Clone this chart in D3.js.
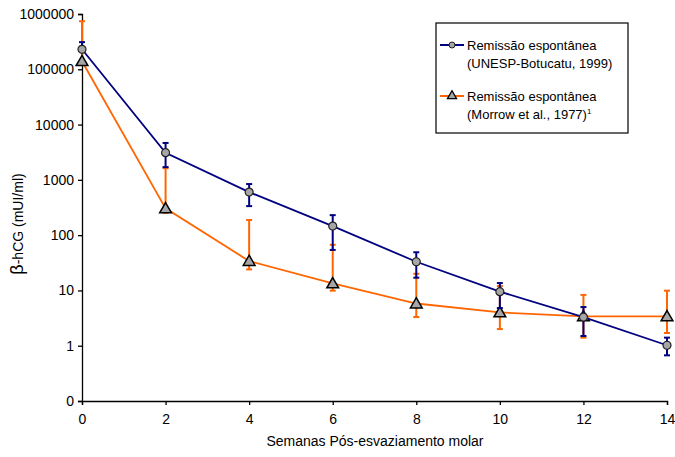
<!DOCTYPE html>
<html lang="en">
<head>
<meta charset="UTF-8" />
<script src="https://d3js.org/d3.v7.min.js"></script>
<style>
  body { margin: 0; background: #fff; }
  text { font-family: "Liberation Sans", Arial, sans-serif; fill: #000; }
</style>
</head>
<body>
<svg id="chart" width="675" height="457"></svg>
<script>
  // weeks after molar evacuation
  const weeks = [0, 2, 4, 6, 8, 10, 12, 14];

  // UNESP-Botucatu 1999 (mean, upper, lower)
  const unespMean = [230000, 3100, 600, 146, 33, 9.5, 3.3, 1.02];
  const unespHigh = [310000, 4650, 840, 230, 49, 13.6, 5.0, 1.4];
  const unespLow  = [230000, 1700, 335, 54, 17, 4.8, 1.5, 0.67];

  // Morrow et al. 1977
  const morrowMean = [140000, 305, 34, 13.4, 5.8, 4.0, 3.4, 3.4];
  const morrowHigh = [740000, 1630, 188, 67, 20, 12, 8.3, 9.9];
  const morrowLow  = [140000, 254, 24, 9.9, 3.3, 2.0, 1.4, 1.7];

  const yTicks = [0.1, 1, 10, 100, 1000, 10000, 100000, 1000000];
  const xTicks = [0, 2, 4, 6, 8, 10, 12, 14];

  const svg = d3.select('#chart');
  const margin = { top: 14, right: 8, bottom: 56, left: 82 };
  const width = +svg.attr('width');
  const height = +svg.attr('height');
  const innerWidth = width - margin.left - margin.right;
  const innerHeight = height - margin.top - margin.bottom;

  const xScale = d3.scaleLinear().domain([0, 14]).range([0, innerWidth]);
  const yScale = d3.scaleLog().domain([0.1, 1000000]).range([innerHeight, 0]);

  const g = svg.append('g')
    .attr('transform', `translate(${margin.left},${margin.top})`);

  const yAxisG = g.append('g')
    .call(d3.axisLeft(yScale).tickValues(yTicks).tickSize(4).tickPadding(4)
      .tickFormat(d => d < 1 ? '0' : d3.format('d')(d)));
  const xAxisG = g.append('g')
    .attr('transform', `translate(0,${innerHeight})`)
    .call(d3.axisBottom(xScale).tickValues(xTicks).tickSize(4).tickPadding(9));

  [yAxisG, xAxisG].forEach(a => {
    a.attr('font-size', 14).attr('font-family', '"Liberation Sans", Arial, sans-serif');
    a.selectAll('.domain').attr('stroke', '#000').attr('stroke-width', 1.3);
    a.selectAll('.tick line').attr('stroke', '#000').attr('stroke-width', 1.3);
  });

  g.append('text')
    .attr('x', 293)
    .attr('y', innerHeight + 45)
    .attr('text-anchor', 'middle')
    .style('font-size', '14px')
    .text('Semanas Pós-esvaziamento molar');

  const yLabel = svg.append('text')
    .attr('transform', 'translate(23,224) rotate(-90)')
    .attr('text-anchor', 'middle');
  yLabel.append('tspan').style('font-size', '18px').text('β');
  yLabel.append('tspan').style('font-size', '14px').text('-hCG (mUI/ml)');

  const series = [
    { mean: morrowMean, high: morrowHigh, low: morrowLow, color: '#ff6600', marker: 'triangle' },
    { mean: unespMean, high: unespHigh, low: unespLow, color: '#000080', marker: 'circle' }
  ];

  const line = d3.line()
    .x(d => xScale(d.w))
    .y(d => yScale(d.v));

  const drawMarker = (sel, type) => {
    if (type === 'circle') {
      sel.append('circle').attr('r', 4)
        .attr('fill', '#a6a6a6').attr('stroke', '#222').attr('stroke-width', 1.2);
    } else {
      sel.append('path').attr('d', d3.symbol(d3.symbolTriangle, 60)())
        .attr('transform', 'translate(0,1)')
        .attr('fill', '#a6a6a6').attr('stroke', '#000').attr('stroke-width', 1.5);
    }
  };

  series.forEach(s => {
    const pts = weeks.map((w, i) => ({ w, v: s.mean[i], hi: s.high[i], lo: s.low[i] }));

    // error bars
    const eb = g.append('g');
    pts.forEach(p => {
      const x = xScale(p.w);
      eb.append('line')
        .attr('x1', x).attr('x2', x)
        .attr('y1', yScale(p.hi)).attr('y2', yScale(p.lo))
        .attr('stroke', s.color).attr('stroke-width', 2);
      [p.hi, p.lo].forEach(v => {
        if (v === p.v) return;
        eb.append('line')
          .attr('x1', x - 3).attr('x2', x + 3)
          .attr('y1', yScale(v)).attr('y2', yScale(v))
          .attr('stroke', s.color).attr('stroke-width', 2);
      });
    });

    g.append('path').datum(pts)
      .attr('d', line)
      .attr('fill', 'none')
      .attr('stroke', s.color)
      .attr('stroke-width', 1.8);

    g.selectAll(null).data(pts).enter().append('g')
      .attr('transform', d => `translate(${xScale(d.w)},${yScale(d.v)})`)
      .each(function () { drawMarker(d3.select(this), s.marker); });
  });

  // legend
  const legend = svg.append('g').attr('transform', 'translate(436,23)');
  legend.append('rect')
    .attr('width', 192).attr('height', 110)
    .attr('fill', '#fff').attr('stroke', '#000').attr('stroke-width', 1.2);

  const legendItems = [
    { color: '#000080', marker: 'circle', lines: ['Remissão espontânea', '(UNESP-Botucatu, 1999)'], y: 22 },
    { color: '#ff6600', marker: 'triangle', lines: ['Remissão espontânea', '(Morrow et al., 1977)'], y: 73 }
  ];
  legendItems.forEach((item, i) => {
    const li = legend.append('g').attr('transform', `translate(0,${item.y})`);
    li.append('line').attr('x1', 4).attr('x2', 28)
      .attr('stroke', item.color).attr('stroke-width', 2);
    const m = li.append('g').attr('transform', 'translate(16,0)');
    if (item.marker === 'circle') {
      m.append('circle').attr('r', 3).attr('fill', '#a6a6a6').attr('stroke', '#222').attr('stroke-width', 1);
    } else {
      m.append('path').attr('d', d3.symbol(d3.symbolTriangle, 36)())
        .attr('fill', '#a6a6a6').attr('stroke', '#000').attr('stroke-width', 1.3);
    }
    const t = li.append('text').attr('x', 31).attr('y', 5).style('font-size', '13px');
    t.append('tspan').attr('x', 31).attr('dy', 0).text(item.lines[0]);
    t.append('tspan').attr('x', 31).attr('dy', 18).text(item.lines[1]);
    if (i === 1) {
      t.append('tspan').attr('dy', -5).style('font-size', '8px').text('1');
    }
  });
</script>
</body>
</html>
